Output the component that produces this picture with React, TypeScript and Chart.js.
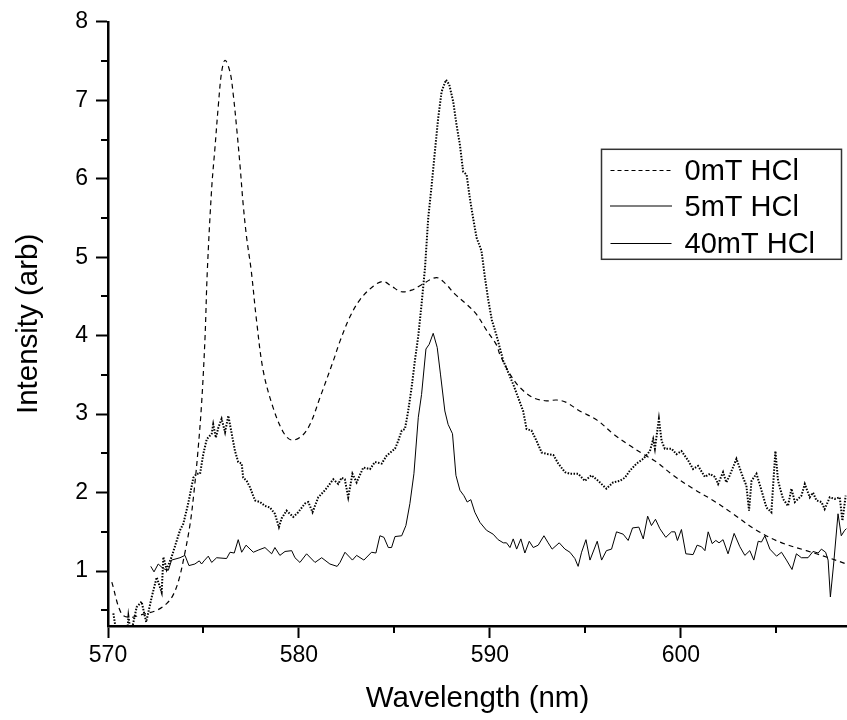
import React, { useEffect, useRef } from "react";
import { Chart, registerables } from "chart.js";

Chart.register(...registerables);

// ---- data (wavelength in nm, intensity in arbitrary units) ----
const wl0 = [570.2, 570.7, 571.15, 571.7, 572.55, 573.07, 573.4, 573.7, 574.0, 574.3, 574.5, 574.7, 574.9, 575.08, 575.2, 575.43, 575.6, 575.78, 575.95, 576.13, 576.39, 576.56, 576.74, 576.91, 577.08, 577.26, 577.5, 577.78, 578.13, 578.65, 579.18, 579.6, 580.14, 580.58, 581.1, 581.8, 582.15, 582.67, 583.2, 583.89, 584.41, 584.85, 585.37, 585.9, 586.42, 587.2, 587.64, 588.17, 588.78, 589.3, 589.82, 590.35, 590.52, 591.05, 591.57, 592.27, 592.97, 593.49, 594.0, 594.7, 595.58, 596.45, 597.33, 598.03, 598.72, 599.6, 600.64, 601.69, 602.73, 603.96, 605.18, 606.57, 607.62, 608.67];
const int0 = [0.86, 0.46, 0.41, 0.44, 0.5, 0.585, 0.69, 0.88, 1.2, 1.6, 2.0, 2.5, 3.13, 3.97, 4.82, 5.88, 6.39, 6.94, 7.36, 7.51, 7.36, 7.07, 6.64, 6.18, 5.67, 5.25, 4.83, 4.19, 3.55, 3.08, 2.77, 2.67, 2.72, 2.87, 3.21, 3.68, 3.93, 4.24, 4.46, 4.63, 4.69, 4.63, 4.56, 4.58, 4.65, 4.74, 4.67, 4.53, 4.4, 4.27, 4.07, 3.88, 3.76, 3.51, 3.34, 3.21, 3.17, 3.18, 3.15, 3.04, 2.93, 2.75, 2.6, 2.49, 2.39, 2.22, 2.05, 1.9, 1.73, 1.52, 1.37, 1.26, 1.18, 1.09];

const wl5 = [570.28, 570.45, 571.0, 571.07, 571.2, 571.5, 571.76, 572.0, 572.29, 572.55, 572.81, 572.9, 573.07, 573.33, 573.5, 573.77, 573.94, 574.2, 574.47, 574.64, 574.82, 574.99, 575.17, 575.43, 575.51, 575.65, 575.78, 575.95, 576.13, 576.3, 576.48, 576.65, 576.82, 577.0, 577.08, 577.26, 577.43, 577.7, 577.96, 578.22, 578.48, 578.74, 578.95, 579.09, 579.35, 579.7, 579.96, 580.31, 580.49, 580.71, 581.01, 581.36, 581.8, 582.06, 582.23, 582.4, 582.58, 582.8, 583.02, 583.37, 583.72, 583.98, 584.33, 584.59, 585.03, 585.2, 585.38, 585.55, 585.72, 585.9, 586.07, 586.25, 586.42, 586.6, 586.77, 586.95, 587.12, 587.29, 587.47, 587.7, 587.87, 588.08, 588.25, 588.43, 588.6, 588.78, 588.95, 589.12, 589.3, 589.56, 589.74, 589.91, 590.1, 590.35, 590.7, 590.96, 591.22, 591.48, 591.74, 591.92, 592.18, 592.44, 592.71, 593.05, 593.32, 593.58, 593.93, 594.19, 594.62, 594.97, 595.32, 595.67, 596.1, 596.45, 596.8, 597.07, 597.33, 597.68, 598.03, 598.38, 598.55, 598.64, 598.85, 598.99, 599.16, 599.51, 599.77, 600.03, 600.38, 600.64, 600.9, 601.26, 601.52, 601.78, 601.95, 602.21, 602.38, 602.56, 602.91, 603.26, 603.43, 603.57, 603.7, 603.96, 604.22, 604.48, 604.74, 604.95, 605.09, 605.35, 605.61, 605.79, 605.97, 606.31, 606.49, 606.75, 606.92, 607.1, 607.36, 607.53, 607.8, 608.06, 608.32, 608.46, 608.63];
const int5 = [0.46, 0.2, 0.2, 0.42, 0.2, 0.54, 0.61, 0.35, 0.67, 0.92, 0.73, 1.18, 1.02, 1.18, 1.31, 1.52, 1.6, 1.86, 2.19, 2.24, 2.24, 2.49, 2.68, 2.75, 2.87, 2.7, 2.83, 2.94, 2.77, 2.98, 2.75, 2.53, 2.39, 2.37, 2.19, 2.15, 2.07, 1.9, 1.88, 1.83, 1.81, 1.73, 1.56, 1.67, 1.77, 1.69, 1.75, 1.86, 1.88, 1.75, 1.94, 2.03, 2.17, 2.11, 2.19, 2.17, 1.94, 2.24, 2.13, 2.32, 2.3, 2.39, 2.37, 2.47, 2.56, 2.66, 2.79, 2.81, 3.04, 3.34, 3.68, 4.0, 4.4, 4.86, 5.5, 5.92, 6.35, 6.77, 7.11, 7.26, 7.2, 6.98, 6.69, 6.43, 6.09, 6.05, 5.75, 5.5, 5.25, 5.08, 4.74, 4.46, 4.2, 4.0, 3.68, 3.53, 3.38, 3.21, 3.04, 2.81, 2.79, 2.66, 2.51, 2.49, 2.48, 2.37, 2.26, 2.24, 2.24, 2.15, 2.22, 2.15, 2.05, 2.13, 2.15, 2.19, 2.28, 2.37, 2.43, 2.53, 2.68, 2.56, 2.94, 2.66, 2.56, 2.56, 2.49, 2.53, 2.41, 2.3, 2.34, 2.2, 2.24, 2.2, 2.11, 2.26, 2.13, 2.22, 2.43, 2.19, 2.09, 1.77, 2.15, 2.24, 2.03, 1.81, 1.75, 2.53, 2.15, 1.92, 1.83, 2.05, 1.88, 1.96, 2.11, 1.94, 2.0, 1.9, 1.88, 1.79, 1.94, 1.92, 1.94, 1.64, 1.96];

const wl40 = [572.24, 572.41, 572.63, 572.9, 573.16, 573.33, 573.77, 574.03, 574.24, 574.55, 574.78, 574.9, 575.03, 575.25, 575.43, 575.69, 576.21, 576.39, 576.61, 576.82, 577.0, 577.23, 577.61, 577.9, 578.22, 578.57, 578.74, 579.0, 579.27, 579.62, 579.79, 580.05, 580.4, 580.84, 581.19, 581.62, 582.0, 582.15, 582.41, 582.8, 583.02, 583.4, 583.8, 584.03, 584.24, 584.45, 584.68, 584.85, 585.03, 585.38, 585.6, 585.81, 586.02, 586.25, 586.42, 586.65, 586.82, 587.03, 587.24, 587.41, 587.64, 587.81, 588.04, 588.22, 588.43, 588.64, 588.81, 589.0, 589.21, 589.48, 589.82, 590.17, 590.43, 590.7, 590.87, 591.05, 591.22, 591.4, 591.62, 591.83, 592.06, 592.27, 592.53, 592.83, 593.05, 593.26, 593.63, 593.93, 594.19, 594.45, 594.62, 594.8, 595.03, 595.24, 595.62, 595.85, 596.1, 596.37, 596.63, 596.98, 597.24, 597.47, 597.8, 598.03, 598.26, 598.46, 598.67, 598.9, 599.21, 599.51, 599.69, 599.82, 600.03, 600.26, 600.64, 600.85, 601.08, 601.26, 601.43, 601.64, 601.83, 602.0, 602.21, 602.47, 602.79, 603.09, 603.35, 603.61, 603.82, 604.05, 604.22, 604.4, 604.66, 605.01, 605.27, 605.53, 605.82, 606.05, 606.31, 606.66, 606.92, 607.19, 607.36, 607.58, 607.71, 607.83, 608.0, 608.23, 608.4, 608.58, 608.67];
const int40 = [1.06, 0.99, 1.09, 1.03, 1.01, 1.14, 1.17, 1.2, 1.07, 1.09, 1.13, 1.09, 1.13, 1.19, 1.11, 1.17, 1.16, 1.24, 1.23, 1.4, 1.24, 1.33, 1.24, 1.27, 1.3, 1.22, 1.3, 1.2, 1.25, 1.26, 1.17, 1.11, 1.22, 1.11, 1.17, 1.09, 1.06, 1.11, 1.24, 1.14, 1.2, 1.14, 1.24, 1.23, 1.45, 1.43, 1.3, 1.3, 1.44, 1.45, 1.58, 1.86, 2.24, 2.96, 3.25, 3.83, 3.89, 4.03, 3.85, 3.51, 3.04, 2.87, 2.75, 2.22, 2.03, 1.96, 1.88, 1.91, 1.75, 1.62, 1.52, 1.47, 1.4, 1.36, 1.36, 1.3, 1.41, 1.28, 1.41, 1.23, 1.38, 1.3, 1.33, 1.45, 1.36, 1.28, 1.36, 1.28, 1.24, 1.16, 1.06, 1.24, 1.4, 1.14, 1.38, 1.14, 1.26, 1.28, 1.5, 1.47, 1.39, 1.55, 1.56, 1.41, 1.7, 1.58, 1.66, 1.54, 1.43, 1.5, 1.5, 1.39, 1.53, 1.22, 1.21, 1.33, 1.31, 1.26, 1.5, 1.35, 1.39, 1.36, 1.4, 1.22, 1.48, 1.31, 1.2, 1.26, 1.14, 1.38, 1.37, 1.45, 1.28, 1.19, 1.24, 1.14, 1.02, 1.22, 1.17, 1.17, 1.25, 1.23, 1.28, 1.24, 1.14, 0.67, 1.09, 1.73, 1.45, 1.52, 1.54];

const seriesLabels = ["0mT HCl", "5mT HCl", "40mT HCl"];
const xMinorTicks = [575, 585, 595, 605];
const yMinorTicks = [0.5, 1.5, 2.5, 3.5, 4.5, 5.5, 6.5, 7.5];

const FONT = "'Liberation Sans', Arial, Helvetica, sans-serif";

const toPoints = (xs: number[], ys: number[]) => xs.map((x, i) => ({ x, y: ys[i] }));

const minorTicksPlugin = {
  id: "minorTicks",
  afterDraw(chart: any) {
    const { ctx, chartArea } = chart;
    const x = chart.scales.x;
    const y = chart.scales.y;
    ctx.save();
    ctx.strokeStyle = "#000";
    ctx.lineWidth = 2;
    ctx.setLineDash([]);
    ctx.beginPath();
    xMinorTicks.forEach((v) => {
      const px = Math.round(x.getPixelForValue(v));
      ctx.moveTo(px, chartArea.bottom);
      ctx.lineTo(px, chartArea.bottom + 7);
    });
    yMinorTicks.forEach((v) => {
      const py = Math.round(y.getPixelForValue(v));
      ctx.moveTo(chartArea.left, py);
      ctx.lineTo(chartArea.left - 7, py);
    });
    ctx.stroke();
    ctx.restore();
  },
};

const boxLegendPlugin = {
  id: "boxLegend",
  afterDraw(chart: any) {
    const { ctx, chartArea } = chart;
    const w = 240;
    const h = 110;
    const left = chartArea.right - 245.5;
    const top = chartArea.top + 127.5;
    ctx.save();
    ctx.fillStyle = "#fff";
    ctx.fillRect(left, top, w, h);
    ctx.strokeStyle = "#333";
    ctx.lineWidth = 1.5;
    ctx.setLineDash([]);
    ctx.strokeRect(left, top, w, h);
    ctx.font = `29px ${FONT}`;
    ctx.textBaseline = "middle";
    ctx.textAlign = "left";
    chart.data.datasets.forEach((ds: any, i: number) => {
      const lw = ds.legendWidth ?? ds.borderWidth;
      const base = Math.round(top + 20.5 + i * 36.5);
      const cy = lw % 2 === 0 ? base : base + 0.5;
      ctx.strokeStyle = "#000";
      ctx.lineWidth = lw;
      ctx.setLineDash(ds.legendDash ?? ds.borderDash ?? []);
      ctx.beginPath();
      ctx.moveTo(left + 9, cy);
      ctx.lineTo(left + 70, cy);
      ctx.stroke();
      ctx.setLineDash([]);
      ctx.fillStyle = "#000";
      ctx.fillText(ds.label, left + 83, base + 1.5);
    });
    ctx.restore();
  },
};

export default function App() {
  const canvasRef = useRef<HTMLCanvasElement | null>(null);

  useEffect(() => {
    const canvas = canvasRef.current;
    if (!canvas) return;
    const chart = new Chart(canvas, {
      type: "line",
      data: {
        datasets: [
          {
            label: seriesLabels[0],
            data: toPoints(wl0, int0),
            borderColor: "#000",
            borderWidth: 1.2,
            borderDash: [5, 4],
            legendWidth: 1,
            legendDash: [4, 3],
            pointRadius: 0,
            tension: 0.35,
            fill: false,
          } as any,
          {
            label: seriesLabels[1],
            data: toPoints(wl5, int5),
            borderColor: "#000",
            borderWidth: 2,
            borderDash: [1.5, 1.5],
            legendWidth: 2,
            legendDash: [1, 1],
            pointRadius: 0,
            tension: 0,
            fill: false,
          } as any,
          {
            label: seriesLabels[2],
            data: toPoints(wl40, int40),
            borderColor: "#000",
            borderWidth: 1,
            pointRadius: 0,
            tension: 0,
            fill: false,
          } as any,
        ],
      },
      options: {
        animation: false,
        responsive: false,
        parsing: true,
        layout: { padding: { top: 20, right: 0, bottom: 0, left: 0 } },
        plugins: {
          legend: { display: false },
          tooltip: { enabled: false },
        },
        scales: {
          x: {
            type: "linear",
            min: 570,
            max: 608.7,
            ticks: {
              stepSize: 10,
              includeBounds: false,
              color: "#000",
              font: { family: FONT, size: 23 },
              padding: 4,
              maxRotation: 0,
            },
            grid: {
              drawOnChartArea: false,
              drawTicks: true,
              tickLength: 12,
              tickWidth: 2,
              tickColor: "#000",
            },
            border: { display: true, color: "#000", width: 2.5 },
            title: {
              display: true,
              text: "Wavelength (nm)",
              color: "#000",
              font: { family: FONT, size: 29.5 },
              padding: { top: 0, bottom: 3 },
            },
            afterFit: (s: any) => {
              s.height = 94;
            },
          },
          y: {
            type: "linear",
            min: 0.3,
            max: 8,
            ticks: {
              stepSize: 1,
              includeBounds: false,
              color: "#000",
              font: { family: FONT, size: 23 },
              padding: 8,
            },
            grid: {
              drawOnChartArea: false,
              drawTicks: true,
              tickLength: 12,
              tickWidth: 2,
              tickColor: "#000",
            },
            border: { display: true, color: "#000", width: 2.5 },
            title: {
              display: true,
              text: "Intensity (arb)",
              color: "#000",
              font: { family: FONT, size: 29.5 },
              padding: { top: 11, bottom: 0 },
            },
            afterFit: (s: any) => {
              s.width = 108;
            },
          },
        },
      } as any,
      plugins: [minorTicksPlugin, boxLegendPlugin],
    });
    return () => chart.destroy();
  }, []);

  return (
    <div style={{ position: "absolute", left: 0, top: 0, width: 847, height: 720, background: "#fff" }}>
      <canvas ref={canvasRef} width={847} height={720} style={{ display: "block" }} />
    </div>
  );
}
